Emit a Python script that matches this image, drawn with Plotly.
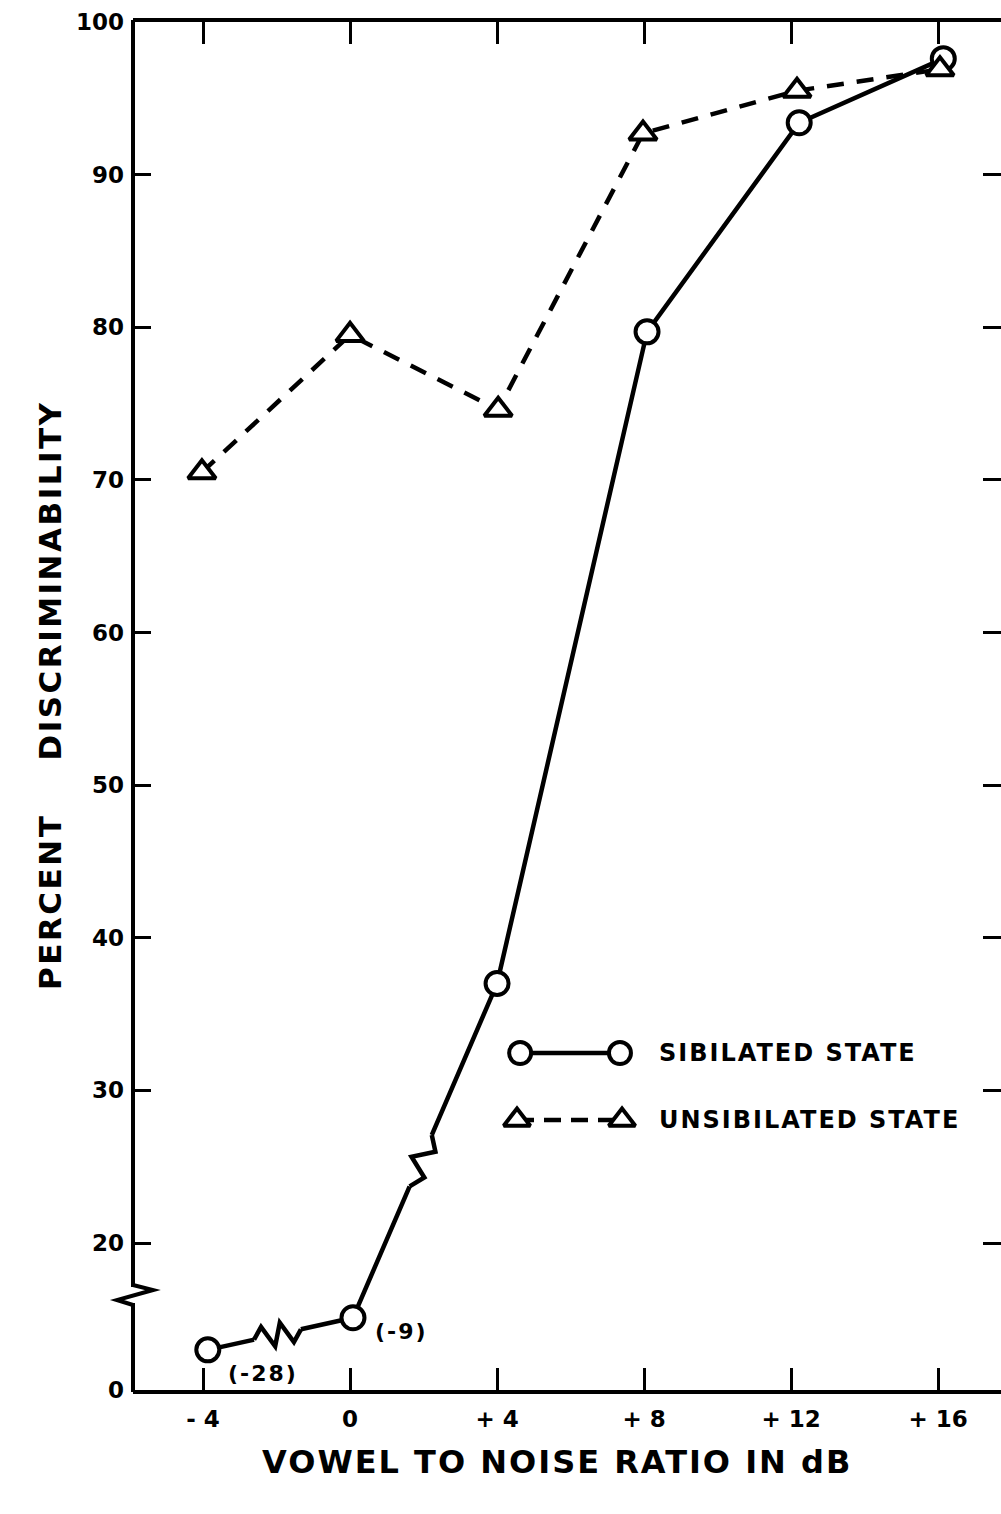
import math
import plotly.graph_objects as go

# ---------------- data ----------------
x_sib = [-3.87, 0.08, 4.0, 8.08, 12.22, 16.14]
y_sib = [13.0, 15.1, 37.0, 79.7, 93.4, 97.6]
x_uns = [-4.03, 0.0, 4.03, 7.97, 12.16, 16.05]
y_uns = [70.5, 79.5, 74.6, 92.7, 95.5, 96.9]
x_tickvals = [-4, 0, 4, 8, 12, 16]
x_ticktext = ["- 4", "0", "+ 4", "+ 8", "+ 12", "+ 16"]
y_zero_pos = 10.37  # where the "0" label sits on the broken axis
y_tickvals = [y_zero_pos, 20, 30, 40, 50, 60, 70, 80, 90, 100]
y_ticktext = ["0", "20", "30", "40", "50", "60", "70", "80", "90", "100"]
break_labels = ["(-28)", "(-9)"]
series_names = ["SIBILATED STATE", "UNSIBILATED STATE"]

# ---------------- layout constants ----------------
W, H = 1001, 1514
ML, MR, MT, MB = 133, 0, 22, 124
XR = [-5.905, 17.71]
YR = [y_zero_pos, 100.0]
PW, PH = W - ML - MR, H - MT - MB
FONT = "DejaVu Sans"
BLACK = "#000000"


def xp(v):
    return ML + (v - XR[0]) / (XR[1] - XR[0]) * PW


def yp(v):
    return MT + (YR[1] - v) / (YR[1] - YR[0]) * PH


def xv(p):
    return XR[0] + (p - ML) / PW * (XR[1] - XR[0])


def yv(p):
    return YR[1] - (p - MT) / PH * (YR[1] - YR[0])


def zigzag(xs, ys, i, t, half, amp, n, first_sign=-1):
    ax, ay = xp(xs[i]), yp(ys[i])
    bx, by = xp(xs[i + 1]), yp(ys[i + 1])
    dx, dy = bx - ax, by - ay
    ln = math.hypot(dx, dy)
    ux, uy = dx / ln, dy / ln
    nx, ny = -uy, ux
    cx, cy = ax + t * dx, ay + t * dy
    start = (cx - half * ux, cy - half * uy)
    end = (cx + half * ux, cy + half * uy)
    pts = [start]
    sign = first_sign
    for k in range(1, n + 1):
        s = -half + 2 * half * k / (n + 1)
        pts.append((cx + s * ux + sign * amp * nx, cy + s * uy + sign * amp * ny))
        sign = -sign
    pts.append(end)
    cover = dict(type="line", xref="x", yref="y",
                 x0=xv(start[0]), y0=yv(start[1]), x1=xv(end[0]), y1=yv(end[1]),
                 line=dict(color="white", width=10), layer="above")
    path = "M " + " L ".join(f"{xv(px)},{yv(py)}" for px, py in pts)
    zig = dict(type="path", xref="x", yref="y", path=path,
               line=dict(color=BLACK, width=4.5), layer="above")
    return [cover, zig]


fig = go.Figure()

fig.add_trace(go.Scatter(
    x=x_sib, y=y_sib, mode="lines+markers", name=series_names[0],
    line=dict(color=BLACK, width=4.5),
    marker=dict(symbol="circle", size=23, color="white",
                line=dict(color=BLACK, width=4)),
    showlegend=False, cliponaxis=False))

fig.add_trace(go.Scatter(
    x=x_uns, y=y_uns, mode="lines+markers", name=series_names[1],
    line=dict(color=BLACK, width=4.5, dash="17px,13px"),
    marker=dict(symbol="triangle-up", size=24, color="white",
                line=dict(color=BLACK, width=4)),
    showlegend=False, cliponaxis=False))

# legend samples on an overlay [0,1] axis pair
fig.add_trace(go.Scatter(
    x=[0.446, 0.561], y=[0.2463, 0.2463], xaxis="x2", yaxis="y2",
    mode="lines+markers", line=dict(color=BLACK, width=4.5),
    marker=dict(symbol="circle", size=22, color="white",
                line=dict(color=BLACK, width=4)),
    showlegend=False, hoverinfo="skip"))
fig.add_trace(go.Scatter(
    x=[0.4424, 0.5634], y=[0.1974, 0.1974], xaxis="x2", yaxis="y2",
    mode="lines+markers", line=dict(color=BLACK, width=4.5, dash="17px,10px"),
    marker=dict(symbol="triangle-up", size=23, color="white",
                line=dict(color=BLACK, width=4)),
    showlegend=False, hoverinfo="skip"))

shapes = []


def ppx(p):
    return (p - ML) / PW


def ppy(p):
    return (H - MB - p) / PH


# left frame line with the axis break
shapes.append(dict(type="line", xref="paper", yref="paper", x0=0, x1=0,
                   y0=ppy(MT - 2), y1=ppy(1287), line=dict(color=BLACK, width=4)))
shapes.append(dict(type="line", xref="paper", yref="paper", x0=0, x1=0,
                   y0=ppy(1303), y1=ppy(H - MB + 2), line=dict(color=BLACK, width=4)))
brk = [(133, 1285), (153, 1290), (117, 1300), (133, 1305)]
shapes.append(dict(type="path", xref="paper", yref="paper",
                   path="M " + " L ".join(f"{ppx(a)},{ppy(b)}" for a, b in brk),
                   line=dict(color=BLACK, width=4)))
# breaks on the sibilated curve
shapes += zigzag(x_sib, y_sib, 0, 0.48, 24, 11, 4, first_sign=-1)
shapes += zigzag(x_sib, y_sib, 1, 0.47, 28, 10, 3, first_sign=1)

annotations = [
    dict(x=x_sib[0], y=y_sib[0], xref="x", yref="y",
         text="<b><span style='letter-spacing:2px'>" + break_labels[0] + "</span></b>",
         showarrow=False, xshift=55, yshift=-24, font=dict(family=FONT, size=22, color=BLACK)),
    dict(x=x_sib[1], y=y_sib[1], xref="x", yref="y",
         text="<b><span style='letter-spacing:2px'>" + break_labels[1] + "</span></b>",
         showarrow=False, xshift=49, yshift=-14, font=dict(family=FONT, size=22, color=BLACK)),
    dict(x=0.6037, y=0.2463, xref="paper", yref="paper", xanchor="left", yanchor="middle",
         text="<b><span style='letter-spacing:2px'>" + series_names[0] + "</span></b>",
         showarrow=False, font=dict(family=FONT, size=24, color=BLACK)),
    dict(x=0.6037, y=0.1974, xref="paper", yref="paper", xanchor="left", yanchor="middle",
         text="<b><span style='letter-spacing:2px'>" + series_names[1] + "</span></b>",
         showarrow=False, font=dict(family=FONT, size=24, color=BLACK)),
    dict(x=ppx(557), y=ppy(1462), xref="paper", yref="paper", xanchor="center", yanchor="middle",
         text="<b><span style='letter-spacing:2px'>VOWEL TO NOISE RATIO IN dB</span></b>",
         showarrow=False, font=dict(family=FONT, size=32, color=BLACK)),
    dict(x=ppx(50), y=ppy(695), xref="paper", yref="paper", xanchor="center", yanchor="middle",
         textangle=-90,
         text="<b><span style='letter-spacing:2.5px'>PERCENT    DISCRIMINABILITY</span></b>",
         showarrow=False, font=dict(family=FONT, size=31, color=BLACK)),
]

fig.update_layout(
    width=W, height=H,
    margin=dict(l=ML, r=MR, t=MT, b=MB, pad=0),
    paper_bgcolor="white", plot_bgcolor="white",
    showlegend=False,
    xaxis=dict(range=XR, tickvals=x_tickvals, ticktext=x_ticktext,
               showgrid=False, zeroline=False, showline=True, linecolor=BLACK, linewidth=4,
               mirror="ticks", ticks="inside", ticklen=22, tickwidth=3, tickcolor=BLACK,
               ticklabelstandoff=5,
               tickfont=dict(family=FONT, size=23, color=BLACK, weight="bold")),
    yaxis=dict(range=YR, tickvals=y_tickvals, ticktext=y_ticktext,
               showgrid=False, zeroline=False, showline=False,
               mirror="ticks", ticks="inside", ticklen=18, tickwidth=3, tickcolor=BLACK,
               ticklabelstandoff=8,
               tickfont=dict(family=FONT, size=23, color=BLACK, weight="bold")),
    xaxis2=dict(overlaying="x", anchor="y2", range=[0, 1], visible=False),
    yaxis2=dict(overlaying="y", anchor="x2", range=[0, 1], visible=False),
    shapes=shapes,
    annotations=annotations,
)

fig.write_html("out.html")
